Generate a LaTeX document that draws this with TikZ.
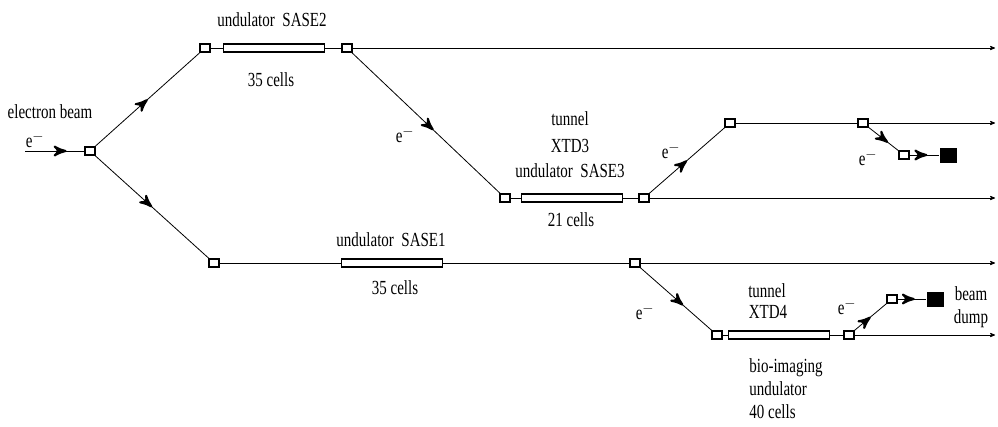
\documentclass[tikz,border=0pt]{standalone}
\usepackage{fontspec}
\newfontfamily\labelfont[FakeStretch=0.75]{Liberation Serif}
\usetikzlibrary{arrows,decorations.markings}

\tikzset{beam/.style={postaction={decorate},
    decoration={markings,mark=at position #1 with {\arrow[scale=2.6]{>}}}},
  beam/.default=0.5}

\begin{document}
\begin{tikzpicture}[x=1pt,y=-1pt,>=stealth',thick,
		font=\labelfont\fontsize{20}{23}\selectfont]
		\tikzstyle{switch}=[draw,line width=1.3pt,minimum width=10pt,minimum height=8pt,inner sep=0pt]
		\tikzstyle{undulator}=[draw,line width=1.3pt,minimum width=101pt,minimum height=8pt,inner sep=0pt]
		\tikzstyle{dump}=[fill=black,minimum width=17pt,minimum height=15pt,inner sep=0pt]
		\tikzstyle{every node}=[inner sep=1pt]
		\useasboundingbox (0,0) rectangle (998,426);
		
		\coordinate (in) at (25,151);
		\node[switch] (s0) at (90,151) {};
		\node[switch] (s1) at (205,48) {};
		\node[undulator] (u2) at (274,48) {};
		\node[switch] (s2) at (347,48) {};
		\coordinate (e2) at (995,48);
		\node[switch] (s3) at (505,198) {};
		\node[undulator] (u3) at (572,198) {};
		\node[switch] (s4) at (644,198) {};
		\coordinate (e3) at (995,198);
		\node[switch] (s5) at (730,123) {};
		\node[switch] (s6) at (863,123) {};
		\coordinate (e5) at (995,123);
		\node[switch] (s7) at (904,155) {};
		\node[dump] (d1) at (948,155) {};
		\node[switch] (s8) at (214,263) {};
		\node[undulator] (u1) at (392,263) {};
		\node[switch] (s9) at (635,263) {};
		\coordinate (e1) at (995,263);
		\node[switch] (s10) at (717,335) {};
		\node[undulator] (u4) at (779,335) {};
		\node[switch] (s11) at (849,335) {};
		\coordinate (e4) at (995,335);
		\node[switch] (s12) at (892,299) {};
		\node[dump] (d2) at (935,299) {};
		
		\node (lbeam) at (50,112) {electron beam};
		\node (le0) at (35,140) {e$^-$};
		\node (lu2) at (272,20) {undulator\ \ SASE2};
		\node (lc2) at (271,80) {35 cells};
		\node (le1) at (405,135) {e$^-$};
		\node (lt3) at (570,119) {tunnel};
		\node (lx3) at (570,146) {XTD3};
		\node (lu3) at (570,171) {undulator\ \ SASE3};
		\node (lc3) at (571,220) {21 cells};
		\node (le2) at (671,151) {e$^-$};
		\node (le3) at (868,158) {e$^-$};
		\node (lu1) at (391,240) {undulator\ \ SASE1};
		\node (lc1) at (395,288) {35 cells};
		\node (le4) at (645,312) {e$^-$};
		\node (lt4) at (767,291) {tunnel};
		\node (lx4) at (768,312) {XTD4};
		\node (le5) at (847,307) {e$^-$};
		\node[align=center] (lbd) at (971,307) {beam\\dump};
		\node[align=left,anchor=west] (lbio) at (748,389) {bio-imaging\\undulator\\40 cells};
		
		\path (in) edge[beam=0.7] (s0)
		(s0) edge[beam] (s1)
		edge[beam] (s8)
		(s1) edge (u2)
		(u2) edge (s2)
		(s2) edge[->] (e2)
		edge[beam=0.55] (s3)
		(s3) edge (u3)
		(u3) edge (s4)
		(s4) edge[->] (e3)
		edge[beam] (s5)
		(s5) edge (s6)
		(s6) edge[->] (e5)
		edge[beam=0.65] (s7)
		(s7) edge[beam=0.6] (d1)
		(s8) edge (u1)
		(u1) edge (s9)
		(s9) edge[->] (e1)
		edge[beam=0.6] (s10)
		(s10) edge (u4)
		(u4) edge (s11)
		(s11) edge[->] (e4)
		edge[beam] (s12)
		(s12) edge[beam=0.6] (d2);
	\end{tikzpicture}
\end{document}
